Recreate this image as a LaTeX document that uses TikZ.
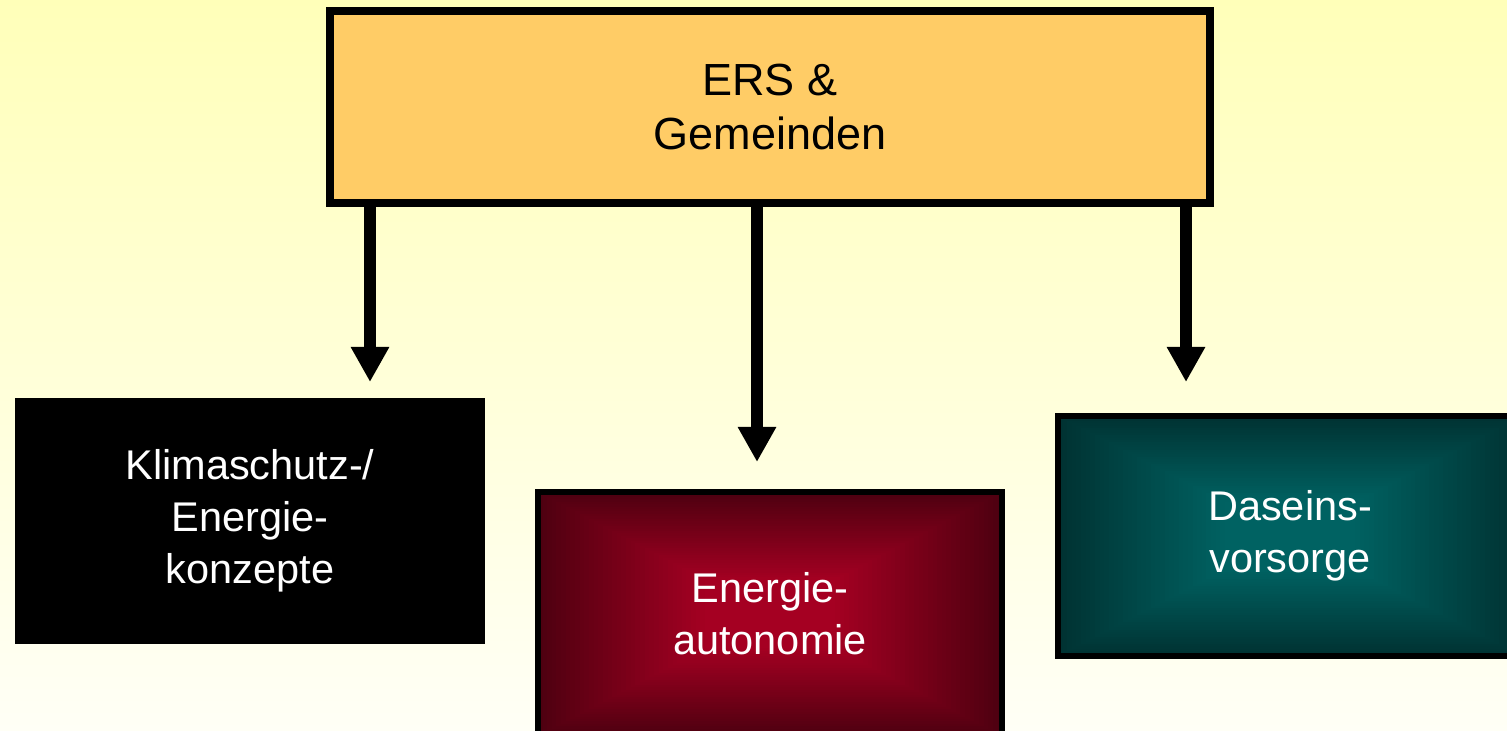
\documentclass[tikz,border=0pt]{standalone}
\usepackage{fontspec}
\setmainfont{Liberation Sans}
\usetikzlibrary{arrows.meta, positioning, calc}

\definecolor{bgtop}{RGB}{255,255,185}
\definecolor{bgbot}{RGB}{255,255,246}
\definecolor{ersfill}{RGB}{255,204,102}
\definecolor{rededge}{RGB}{78,0,16}
\definecolor{redmid}{RGB}{165,0,34}
\definecolor{tealedge}{RGB}{0,50,50}
\definecolor{tealmid}{RGB}{0,98,98}

% rectangular "from centre" glow inside a node
\newcommand{\rectglow}[2]{%
  \foreach \k in {0,...,36}{%
    \pgfmathsetmacro\pct{100*\k/36}%
    \fill[#2!\pct!#1]
      ($(path picture bounding box.south west)!\k/100!(path picture bounding box.north east)$)
      rectangle
      ($(path picture bounding box.north east)!\k/100!(path picture bounding box.south west)$);
  }}

\begin{document}
\begin{tikzpicture}[
  x=0.01cm, y=-0.01cm,
  topbox/.style={draw, line width=0.08cm, fill=ersfill, align=center,
    minimum width=8.80cm, minimum height=1.92cm,
    font=\fontsize{12.8}{15.1}\selectfont},
  subbox/.style={align=center, text=white, inner sep=0pt,
    font=\fontsize{11.8}{14.8}\selectfont},
  glowbox/.style 2 args={subbox, draw, line width=0.06cm,
    minimum width=4.64cm, minimum height=2.44cm,
    path picture={\rectglow{#1}{#2}}},
  arr/.style={-{Triangle[length=0.35cm, width=0.36cm]}, line width=0.12cm}
]
\useasboundingbox (0,0) rectangle (1507,730);
\clip (0,0) rectangle (1507,730);
\shade[top color=bgtop, bottom color=bgbot] (0,0) rectangle (1507,730);

\node[topbox] (ers) at (770,107) {ERS \&\\ Gemeinden};
\node[subbox, fill=black, minimum width=4.70cm, minimum height=2.46cm]
  (klima) at (250,521) {Klimaschutz-/\\ Energie-\\ konzepte};
\node[glowbox={rededge}{redmid}] (auto) at (770,614) {Energie-\\ autonomie};
\node[glowbox={tealedge}{tealmid}, minimum height=2.40cm]
  (dasein) at (1290,536) {Daseins-\\ vorsorge};

\coordinate (tipK) at (370,382);
\coordinate (tipA) at (757,462);
\coordinate (tipD) at (1186,382);

\draw[arr] (ers.south -| tipK) -- (tipK);
\draw[arr] (ers.south -| tipA) -- (tipA);
\draw[arr] (ers.south -| tipD) -- (tipD);
\end{tikzpicture}
\end{document}
